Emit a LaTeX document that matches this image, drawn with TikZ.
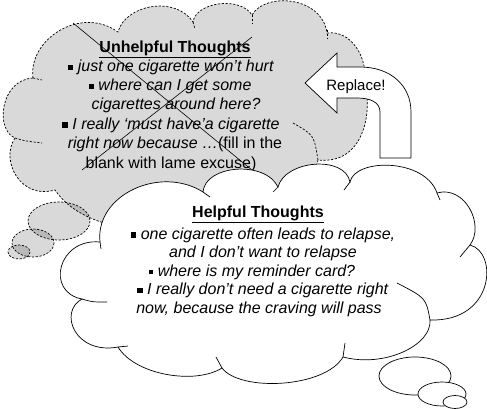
\documentclass[tikz,border=0pt]{standalone}
\usepackage{fontspec}
\setmainfont{Liberation Sans}
\newcommand\bul{\raisebox{1.5pt}{\rule{5.5pt}{5.5pt}}}
\newcommand\sbul{\raisebox{1.6pt}{\rule{4.5pt}{4.5pt}}}
\begin{document}
\begin{tikzpicture}[x=1pt,y=-1pt,
  graycl/.style={fill=black,fill opacity=0.15,draw=black,line width=0.7pt,dash pattern=on 2.2pt off 1.6pt},
  grayhook/.style={draw=black,line width=0.7pt,dash pattern=on 2.2pt off 1.6pt},
  whitecl/.style={fill=white,draw=black,line width=0.7pt},
  whitehook/.style={draw=black,line width=0.7pt},
  cross/.style={draw=black,line width=0.6pt},
  txt/.style={anchor=base,inner sep=0pt,font=\fontsize{16}{19}\selectfont},
  arrowbox/.style={fill=white,draw=black,line width=0.7pt}]
\useasboundingbox (0,0) rectangle (487,409);
% ---------- grey cloud (unhelpful) ----------
\path[graycl] (33,78) .. controls (28,40) and (80,5) .. (118,32)
  .. controls (125,5) and (175,-5) .. (193,22)
  .. controls (196,2) and (240,-4) .. (252,15)
  .. controls (265,-8) and (322,-4) .. (327,33)
  .. controls (350,30) and (368,55) .. (365,85)
  .. controls (372,110) and (365,165) .. (318,160)
  .. controls (315,185) and (260,215) .. (215,215)
  .. controls (175,240) and (85,235) .. (55,190)
  .. controls (20,200) and (0,160) .. (15,138)
  .. controls (-5,130) and (0,80) .. (33,78) -- cycle;
\path[graycl] (59,221) ellipse [x radius=31, y radius=19];
\path[graycl] (33,243) ellipse [x radius=21, y radius=14];
\path[graycl] (19,252) ellipse [x radius=11, y radius=7];
\coordinate (gh1a) at (33,78);  \coordinate (gh1b) at (42,80);
\coordinate (gh2a) at (15,138); \coordinate (gh2b) at (42,143);
\coordinate (gh3a) at (252,15); \coordinate (gh3b) at (252,23);
\coordinate (gh4a) at (327,30); \coordinate (gh4b) at (327,38);
\coordinate (gh5a) at (318,160); \coordinate (gh5b) at (293,123);
\coordinate (gh6a) at (193,22); \coordinate (gh6b) at (195,29);
\draw[grayhook] (gh1a) -- (gh1b);
\draw[grayhook] (gh2a) .. controls (25,141) .. (gh2b);
\draw[grayhook] (gh3a) -- (gh3b);
\draw[grayhook] (gh4a) -- (gh4b);
\draw[grayhook] (gh5a) .. controls (314,135) .. (gh5b);
\draw[grayhook] (gh6a) -- (gh6b);
% cross-out lines
\coordinate (x1a) at (73,23);  \coordinate (x1b) at (258,175);
\coordinate (x2a) at (252,37); \coordinate (x2b) at (82,170);
\draw[cross] (x1a) -- (x1b);
\draw[cross] (x2a) -- (x2b);
% grey text
\node[txt] (u1) at (175,52.7) {\textbf{\underline{Unhelpful Thoughts}}};
\node[txt] (u2) at (171,72) {\bul\ \textit{just one cigarette won’t hurt}};
\node[txt] (u3) at (170,91) {\bul\ \textit{where can I get some}};
\node[txt] (u4) at (176,110) {\textit{cigarettes around here?}};
\node[txt] (u5) at (171,129) {\bul\ \textit{I really ‘must have’a cigarette}};
\node[txt] (u6) at (175,148.5) {\textit{right now because …}(fill in the};
\node[txt] (u7) at (171,168) {blank with lame excuse)};
% ---------- arrow ----------
\path[arrowbox] (305,83) -- (337,53) -- (337,67) -- (360,67)
  .. controls (390,67) and (411,85) .. (411,112) -- (411,158) -- (380,158) -- (380,112)
  .. controls (380,102) and (370,98) .. (357,98) -- (337,98) -- (337,113) -- cycle;
\node[txt,font=\fontsize{15}{18}\selectfont] (rep) at (356,91) {Replace!};
% ---------- white cloud (helpful) ----------
\path[whitecl] (100,242) .. controls (95,195) and (160,165) .. (203,192)
  .. controls (205,165) and (265,160) .. (278,187)
  .. controls (285,160) and (345,155) .. (350,182)
  .. controls (355,158) and (425,158) .. (437,193)
  .. controls (465,185) and (485,225) .. (470,245)
  .. controls (498,252) and (495,322) .. (430,320)
  .. controls (432,345) and (385,368) .. (343,357)
  .. controls (325,388) and (240,392) .. (222,368)
  .. controls (195,385) and (135,375) .. (118,347)
  .. controls (75,355) and (58,312) .. (82,299)
  .. controls (45,292) and (58,238) .. (100,242) -- cycle;
\coordinate (wh1a) at (100,242); \coordinate (wh1b) at (101,249);
\coordinate (wh2a) at (82,299);  \coordinate (wh2b) at (107,302);
\coordinate (wh3a) at (118,347); \coordinate (wh3b) at (128,346);
\coordinate (wh4a) at (222,368); \coordinate (wh4b) at (216,357);
\coordinate (wh5a) at (343,357); \coordinate (wh5b) at (345,343);
\coordinate (wh6a) at (430,320); \coordinate (wh6b) at (397,283);
\coordinate (wh7a) at (470,245); \coordinate (wh7b) at (460,257);
\coordinate (wh8a) at (437,193); \coordinate (wh8b) at (440,200);
\coordinate (wh9a) at (350,182); \coordinate (wh9b) at (344,190);
\coordinate (wh10a) at (278,187); \coordinate (wh10b) at (273,192);
\coordinate (wh11a) at (203,192); \coordinate (wh11b) at (210,197);
\draw[whitehook] (wh1a) -- (wh1b);
\draw[whitehook] (wh2a) .. controls (92,302) .. (wh2b);
\draw[whitehook] (wh3a) -- (wh3b);
\draw[whitehook] (wh4a) .. controls (219,363) .. (wh4b);
\draw[whitehook] (wh5a) -- (wh5b);
\draw[whitehook] (wh6a) .. controls (426,298) .. (wh6b);
\draw[whitehook] (wh7a) -- (wh7b);
\draw[whitehook] (wh8a) -- (wh8b);
\draw[whitehook] (wh9a) -- (wh9b);
\draw[whitehook] (wh10a) -- (wh10b);
\draw[whitehook] (wh11a) -- (wh11b);
\path[whitecl] (415,376) ellipse [x radius=36, y radius=19];
\path[whitecl] (442,394) ellipse [x radius=24, y radius=12];
\path[whitecl] (455,402) ellipse [x radius=12, y radius=6.5];
% white text
\node[txt] (h1) at (258,217) {\textbf{\underline{Helpful Thoughts}}};
\node[txt] (h2) at (263,239) {\bul\ \textit{one cigarette often leads to relapse,}};
\node[txt] (h3) at (263,257.5) {\textit{and I don’t want to relapse}};
\node[txt] (h4) at (252,276) {\sbul\ \textit{where is my reminder card?}};
\node[txt] (h5) at (263,294.5) {\bul\ \textit{I really don’t need a cigarette right}};
\node[txt] (h6) at (259,313) {\textit{now, because the craving will pass}};
\end{tikzpicture}
\end{document}
